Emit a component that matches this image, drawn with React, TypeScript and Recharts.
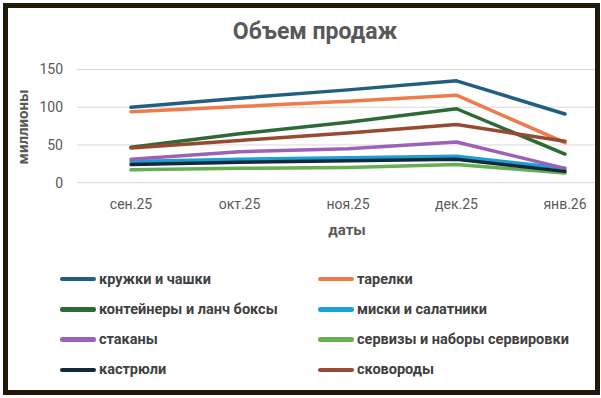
import React from 'react';
import { LineChart, Line, XAxis, YAxis, CartesianGrid } from 'recharts';

const months = ['сен.25', 'окт.25', 'ноя.25', 'дек.25', 'янв.26'];
const yTicks = [0, 50, 100, 150];

const seriesNames = [
  'кружки и чашки',
  'тарелки',
  'контейнеры и ланч боксы',
  'миски и салатники',
  'стаканы',
  'сервизы и наборы сервировки',
  'кастрюли',
  'сковороды',
];
const seriesColors = ['#215f80', '#ef7a4a', '#2d6a35', '#1c9fd6', '#9c62b5', '#66ad53', '#0f2b3b', '#984a31'];

const mugs = [100, 112, 123, 135, 91];
const plates = [94, 101, 108, 116, 53];
const containers = [47, 65, 80, 98, 38];
const bowls = [28, 31, 33, 35, 19];
const glasses = [31, 41, 45, 54, 19];
const sets = [17, 19, 20, 24, 13];
const pots = [24, 27, 29, 31, 15];
const pans = [46, 56, 66, 77, 55];

const seriesValues = [mugs, plates, containers, bowls, glasses, sets, pots, pans];

const data = months.map((m, i) => {
  const row: Record<string, string | number> = { month: m };
  seriesNames.forEach((n, s) => {
    row[n] = seriesValues[s][i];
  });
  return row;
});

const font = 'Roboto, "DejaVu Sans", sans-serif';

export default function App() {
  return (
    <div style={{ position: 'absolute', left: 0, top: 0, width: 601, height: 398, background: '#fff', fontFamily: font }}>
      <LineChart
        width={601}
        height={398}
        data={data}
        margin={{ top: 69.5, right: 6, left: 10, bottom: 185.3 }}
      >
        <CartesianGrid vertical={false} stroke="#d9d9d9" strokeWidth={1} />
        <XAxis
          dataKey="month"
          height={30}
          axisLine={false}
          tickLine={false}
          tickSize={0}
          tickMargin={16}
          padding={{ left: 54, right: 30 }}
          tick={{ fill: '#595959', fontSize: 14, fontFamily: font }}
        />
        <YAxis
          width={67}
          domain={[0, 150]}
          ticks={yTicks}
          axisLine={false}
          tickLine={false}
          tickSize={0}
          tickMargin={14}
          tick={{ fill: '#595959', fontSize: 14, fontFamily: font }}
        />
        {seriesNames.map((n, s) => (
          <Line
            key={n}
            type="linear"
            dataKey={n}
            stroke={seriesColors[s]}
            strokeWidth={3.5}
            strokeLinecap="round"
            strokeLinejoin="round"
            dot={false}
            activeDot={false}
            isAnimationActive={false}
          />
        ))}
      </LineChart>

      <div style={{ position: 'absolute', left: 0, width: 630, top: 17, textAlign: 'center', fontSize: 23, fontWeight: 700, color: '#595959', lineHeight: '30px' }}>
        Объем продаж
      </div>
      <div style={{ position: 'absolute', left: 23 - 60, top: 127 - 10, width: 120, height: 20, lineHeight: '20px', textAlign: 'center', transform: 'rotate(-90deg)', fontSize: 15, fontWeight: 700, color: '#595959' }}>
        миллионы
      </div>
      <div style={{ position: 'absolute', left: 297, width: 100, top: 220, textAlign: 'center', fontSize: 15, fontWeight: 700, color: '#595959', lineHeight: '20px' }}>
        даты
      </div>

      {seriesNames.map((n, s) => {
        const col = s % 2;
        const row = Math.floor(s / 2);
        const left = col === 0 ? 60 : 318;
        const top = 279 + row * 30.3;
        return (
          <div key={n} style={{ position: 'absolute', left, top: top - 10, height: 20, display: 'flex', alignItems: 'center', whiteSpace: 'nowrap' }}>
            <div style={{ width: 36, height: 4.5, borderRadius: 2.25, background: seriesColors[s], marginRight: 3 }} />
            <span style={{ fontSize: 14.5, fontWeight: 700, color: '#404040' }}>{n}</span>
          </div>
        );
      })}

      <div style={{ position: 'absolute', left: 3, top: 3, width: 597, height: 392, boxSizing: 'border-box', border: '5px solid #231709', pointerEvents: 'none' }} />
    </div>
  );
}
